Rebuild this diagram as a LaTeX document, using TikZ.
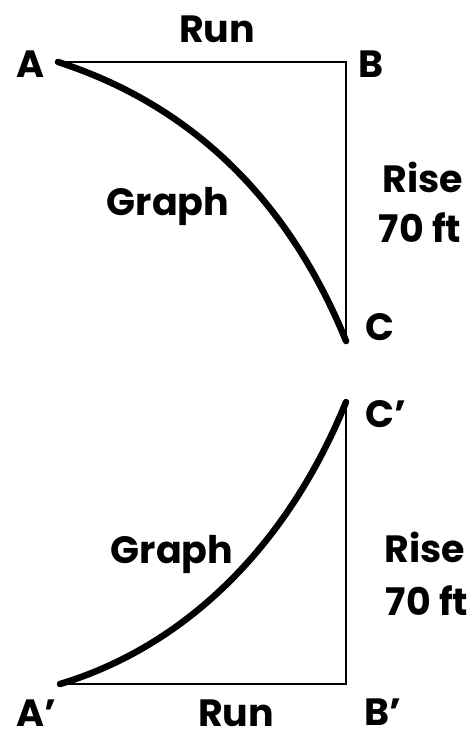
\documentclass[tikz,border=0pt]{standalone}
\usepackage{fontspec}
\setmainfont{Poppins}
\begin{document}
\begin{tikzpicture}[x=1pt,y=-1pt,
  lbl/.style={font=\bfseries\fontsize{38}{40}\selectfont, inner sep=0pt, anchor=base},
  side/.style={line width=2.2pt, line join=miter},
  graph/.style={line width=6.5pt, line cap=round}]
\useasboundingbox (0,0) rectangle (474,741);

% upper triangle
\coordinate (a) at (58,62);
\coordinate (b) at (346,62);
\coordinate (c) at (346,341);
\node[lbl] (la) at (31,78) {A};
\node[lbl] (lb) at (371,78) {B};
\node[lbl] (lc) at (380,340) {C};
\node[lbl] (run1) at (217,43) {Run};
\node[lbl] (gr1) at (168,215) {Graph};
\node[lbl] (rise1) at (423,192) {Rise};
\node[lbl] (ft1) at (420,242) {70 ft};

\draw[side] (a) -- (b) -- (c);
\draw[graph] (a) .. controls (188,104) and (287,196) .. (c);

% lower triangle
\coordinate (a2) at (60,684);
\coordinate (b2) at (346,684);
\coordinate (c2) at (346,402);
\node[lbl] (la2) at (36,726) {A'};
\node[lbl] (lb2) at (383,725) {B'};
\node[lbl] (lc2) at (386,427) {C'};
\node[lbl] (run2) at (236,726) {Run};
\node[lbl] (gr2) at (172,563) {Graph};
\node[lbl] (rise2) at (425,562) {Rise};
\node[lbl] (ft2) at (427,615) {70 ft};

\draw[side] (a2) -- (b2) -- (c2);
\draw[graph] (a2) .. controls (180,648) and (285,552) .. (c2);
\end{tikzpicture}
\end{document}
